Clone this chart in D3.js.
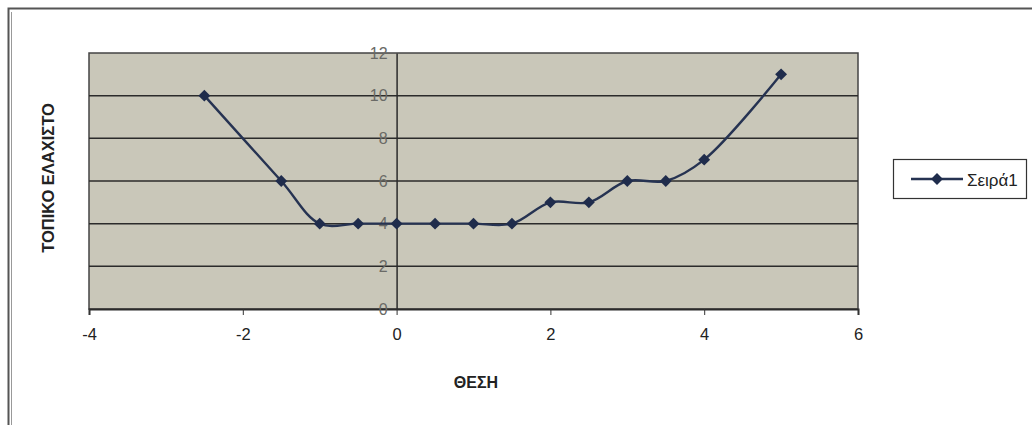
<!DOCTYPE html>
<html><head><meta charset="utf-8">
<script src="https://cdn.jsdelivr.net/npm/d3@7"></script>
<style>body{margin:0;background:#fff}svg{display:block}</style>
</head><body>
<svg id="c" width="1032" height="425"></svg>
<script>
const xValues = [-2.5, -1.5, -1, -0.5, 0, 0.5, 1, 1.5, 2, 2.5, 3, 3.5, 4, 5];
const yValues = [10, 6, 4, 4, 4, 4, 4, 4, 5, 5, 6, 6, 7, 11];
const xTicks = [-4, -2, 0, 2, 4, 6];
const yTicks = [0, 2, 4, 6, 8, 10, 12];
const seriesName = "Σειρά1";
const xTitle = "ΘΕΣΗ";
const yTitle = "ΤΟΠΙΚΟ ΕΛΑΧΙΣΤΟ";

const svg = d3.select("#c");
const L = 89, R = 858, T = 53, B = 309;
const x = d3.scaleLinear().domain([-4, 6]).range([L, R]);
const y = d3.scaleLinear().domain([0, 12]).range([B, T]);
const font = "Arial, 'Liberation Sans', sans-serif";
const fmt = d => String(d);

// outer frame
svg.append("path").attr("d", "M8.5,425 V8.5 H1032").attr("fill","none").attr("stroke","#555").attr("stroke-width",2);
svg.append("line").attr("x1",11.5).attr("x2",11.5).attr("y1",12).attr("y2",425).attr("stroke","#999").attr("stroke-width",1);

// plot background
svg.append("rect").attr("x", L).attr("y", T).attr("width", R - L).attr("height", B - T)
  .attr("fill", "#c9c7b9").attr("stroke", "#444").attr("stroke-width", 1.5);

// horizontal gridlines
svg.append("g").selectAll("line").data(yTicks.filter(d => d > 0 && d < 12)).join("line")
  .attr("x1", L).attr("x2", R).attr("y1", d => y(d)).attr("y2", d => y(d))
  .attr("stroke", "#2b2b2b").attr("stroke-width", 1.5);

// x axis at y=0
const xAxis = svg.append("g").attr("transform", `translate(0,${B})`)
  .call(d3.axisBottom(x).tickValues(xTicks).tickSize(6).tickPadding(13).tickFormat(fmt));
xAxis.select(".domain").attr("stroke", "#2b2b2b").attr("stroke-width", 2);
xAxis.selectAll(".tick line").attr("stroke", "#333");
xAxis.selectAll("text").attr("font-family", font).attr("font-size", 16.5).attr("fill", "#222");

// y axis at x=0
const yAxis = svg.append("g").attr("transform", `translate(${x(0)},0)`)
  .call(d3.axisLeft(y).tickValues(yTicks).tickSize(0).tickPadding(9).tickFormat(fmt));
yAxis.select(".domain").attr("stroke", "#2b2b2b").attr("stroke-width", 1.5);
yAxis.selectAll("text").attr("font-family", font).attr("font-size", 16).attr("fill", "#6a6a66");

// series line
const pts = xValues.map((v, i) => [v, yValues[i]]);
const line = d3.line().x(d => x(d[0])).y(d => y(d[1])).curve(d3.curveCatmullRom.alpha(0.5));
svg.append("path").datum(pts).attr("d", line).attr("fill", "none")
  .attr("stroke", "#263352").attr("stroke-width", 2.4);
const sym = d3.symbol().type(d3.symbolDiamond2).size(90);
svg.append("g").selectAll("path").data(pts).join("path")
  .attr("transform", d => `translate(${x(d[0])},${y(d[1])})`)
  .attr("d", sym).attr("fill", "#1f2c4c");

// axis titles
svg.append("text").attr("x", 476).attr("y", 388).attr("text-anchor", "middle")
  .attr("font-family", font).attr("font-weight", "bold").attr("font-size", 16).attr("fill", "#222").text(xTitle);
svg.append("text").attr("transform", "translate(54,178) rotate(-90)").attr("text-anchor", "middle")
  .attr("font-family", font).attr("font-weight", "bold").attr("font-size", 16.5).attr("fill", "#222").text(yTitle);

// legend
const lg = svg.append("g");
lg.append("rect").attr("x", 893.5).attr("y", 159.5).attr("width", 133).attr("height", 39)
  .attr("fill", "#fff").attr("stroke", "#333").attr("stroke-width", 1.2);
lg.append("line").attr("x1", 911).attr("x2", 963).attr("y1", 179).attr("y2", 179)
  .attr("stroke", "#263352").attr("stroke-width", 2.4);
lg.append("path").attr("transform", "translate(937,179)").attr("d", sym).attr("fill", "#1f2c4c");
lg.append("text").attr("x", 967).attr("y", 185.5).attr("font-family", font).attr("font-size", 17)
  .attr("fill", "#222").text(seriesName);
</script>
</body></html>
